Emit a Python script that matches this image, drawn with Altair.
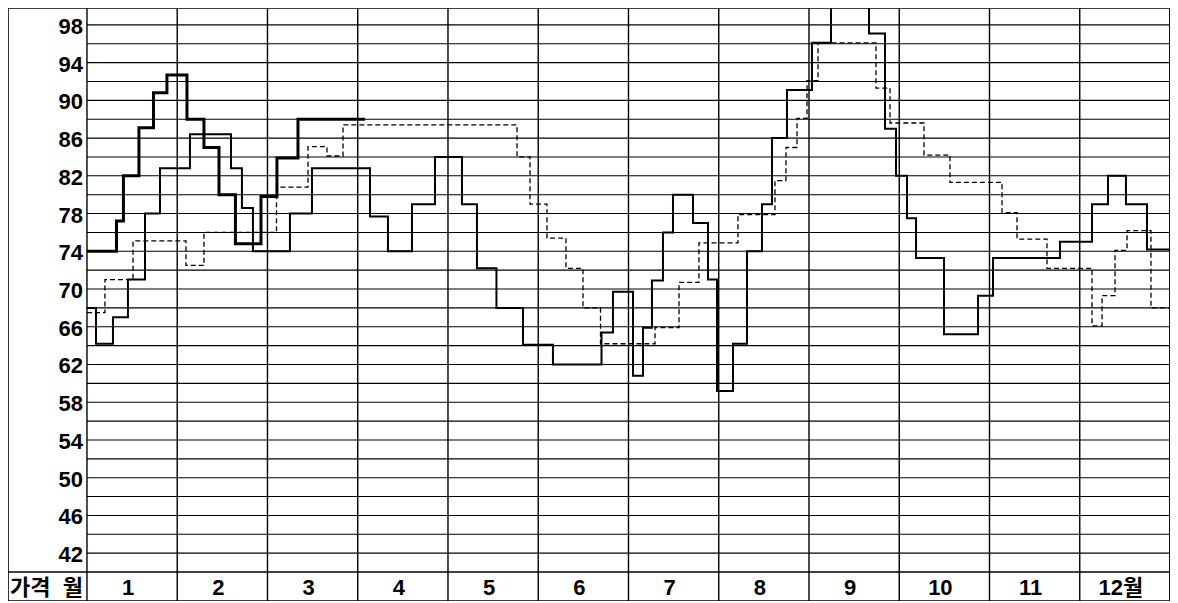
import altair as alt
import pandas as pd

# ---- data (x = position in months, 0 = start of Jan, 12 = end of Dec) ----
# thick solid series
a_x = [0.0, 0.327, 0.404, 0.576, 0.737, 0.886, 1.108, 1.296, 1.463, 1.645, 1.928, 2.105, 2.338]
a_v = [74.0, 77.2, 82.0, 87.1, 90.8, 92.7, 88.0, 85.0, 80.0, 74.8, 79.8, 83.9, 88.0]
a_end = 3.08

# thin solid series
b_x = [0.0, 0.100, 0.288, 0.454, 0.643, 0.809, 1.141, 1.596, 1.717, 1.839, 2.249, 2.493,
       3.136, 3.335, 3.601, 3.856, 4.155, 4.321, 4.537, 4.831, 5.163, 5.701, 5.828, 6.050,
       6.161, 6.260, 6.382, 6.493, 6.715, 6.881, 6.981, 7.158, 7.313, 7.479, 7.590, 7.756,
       8.033, 8.244, 8.665, 8.842, 8.964, 9.086, 9.186, 9.496, 9.873, 10.039, 10.781,
       11.136, 11.313, 11.512, 11.745]
b_v = [68.0, 64.2, 67.0, 71.0, 78.0, 82.8, 86.4, 82.8, 78.6, 74.0, 78.0, 82.8,
       77.7, 74.0, 79.0, 84.0, 79.0, 72.2, 68.0, 64.1, 62.0, 65.4, 69.7, 60.8,
       65.9, 70.9, 76.0, 80.0, 77.0, 71.0, 59.2, 64.2, 74.0, 79.0, 86.0, 91.1,
       96.1, 103.0, 97.1, 87.0, 82.0, 77.5, 73.3, 65.2, 69.3, 73.3, 75.0,
       79.0, 82.0, 79.0, 74.2]
b_end = 12.0

# dashed series
c_x = [0.0, 0.199, 0.510, 1.097, 1.296, 2.100, 2.449, 2.659, 2.837, 4.765, 4.909, 5.097,
       5.307, 5.496, 5.690, 6.294, 6.560, 6.781, 7.213, 7.623, 7.745, 7.867, 7.978, 8.100,
       8.742, 8.898, 9.274, 9.562, 10.139, 10.305, 10.637, 11.136, 11.247, 11.391, 11.524,
       11.789]
c_v = [67.5, 71.0, 75.1, 72.5, 76.0, 80.8, 85.1, 84.1, 87.4, 84.0, 79.0, 75.4,
       72.2, 68.0, 64.2, 65.9, 70.7, 74.9, 77.9, 81.5, 85.0, 88.1, 92.1, 96.1,
       91.3, 87.6, 84.2, 81.3, 78.1, 75.3, 72.2, 66.1, 69.3, 74.1, 76.2,
       68.0]
c_end = 12.0

month_labels = ["1", "2", "3", "4", "5", "6", "7", "8", "9", "10", "11", "12월"]
y_label_values = list(range(42, 99, 4))
grid_values = list(range(42, 99, 2))
month_bounds = list(range(0, 13))
corner_left = "가격"
corner_right = "월"

# ---- layout domain ----
X_MIN, X_MAX = -0.875, 12.0      # left column occupies [-0.875, 0]
Y_MIN, Y_MAX = 36.93, 99.79      # bottom label row occupies [36.93, 40]
ROW_MID = (Y_MIN + 40) / 2

xs = alt.Scale(domain=[X_MIN, X_MAX], nice=False, zero=False)
ys = alt.Scale(domain=[Y_MIN, Y_MAX], nice=False, zero=False)


def steps(xv, vv, end):
    rows = [{"x": x, "v": v} for x, v in zip(xv, vv)]
    rows.append({"x": end, "v": vv[-1]})
    return pd.DataFrame(rows)


def step_layer(df, width, dash=None):
    kw = dict(interpolate="step-after", color="black", strokeWidth=width, clip=True)
    if dash:
        kw["strokeDash"] = dash
    return alt.Chart(df).mark_line(**kw).encode(
        x=alt.X("x:Q", scale=xs, axis=None),
        y=alt.Y("v:Q", scale=ys, axis=None),
        order="x:Q",
    )


# horizontal grid lines (inside month area) + the row separator (full width)
hgrid = pd.DataFrame({"y": grid_values, "x0": 0.0, "x1": 12.0})
hsep = pd.DataFrame({"y": [40], "x0": [X_MIN], "x1": [12.0]})
vgrid = pd.DataFrame({"x": month_bounds, "y0": Y_MIN, "y1": Y_MAX})

h_rules = alt.Chart(hgrid).mark_rule(color="black", strokeWidth=1.1).encode(
    x=alt.X("x0:Q", scale=xs, axis=None), x2="x1:Q",
    y=alt.Y("y:Q", scale=ys, axis=None))
sep_rule = alt.Chart(hsep).mark_rule(color="black", strokeWidth=1.4).encode(
    x=alt.X("x0:Q", scale=xs, axis=None), x2="x1:Q",
    y=alt.Y("y:Q", scale=ys, axis=None))
v_rules = alt.Chart(vgrid).mark_rule(color="black", strokeWidth=1.4).encode(
    x=alt.X("x:Q", scale=xs, axis=None),
    y=alt.Y("y0:Q", scale=ys, axis=None), y2="y1:Q")

FONT = "Liberation Sans Narrow, Liberation Sans, Arial"

ylab = pd.DataFrame({"y": y_label_values, "t": [str(v) for v in y_label_values], "x": 0.0})
y_text = alt.Chart(ylab).mark_text(align="right", baseline="middle", dx=-4, dy=2,
                                   font=FONT, fontSize=22, fontWeight="bold",
                                   color="black").encode(
    x=alt.X("x:Q", scale=xs, axis=None), y=alt.Y("y:Q", scale=ys, axis=None), text="t:N")

mlab = pd.DataFrame({"x": [i + 0.5 for i in range(12)], "t": month_labels, "y": ROW_MID})
m_text = alt.Chart(mlab).mark_text(align="center", baseline="middle", dx=-4, dy=1,
                                   font=FONT + ", Noto Sans CJK KR", fontSize=22,
                                   fontWeight="bold", color="black").encode(
    x=alt.X("x:Q", scale=xs, axis=None), y=alt.Y("y:Q", scale=ys, axis=None), text="t:N")

corner = pd.DataFrame({"x": [X_MIN, 0.0], "y": [ROW_MID, ROW_MID],
                       "t": [corner_left, corner_right], "a": ["l", "r"]})
c_left = alt.Chart(corner[corner.a == "l"]).mark_text(
    align="left", baseline="middle", dx=2, dy=1, font="Noto Sans CJK KR", fontSize=22,
    fontWeight="bold", color="black").encode(x=alt.X("x:Q", scale=xs, axis=None),
                                             y=alt.Y("y:Q", scale=ys, axis=None), text="t:N")
c_right = alt.Chart(corner[corner.a == "r"]).mark_text(
    align="right", baseline="middle", dx=-4, dy=1, font="Noto Sans CJK KR", fontSize=22,
    fontWeight="bold", color="black").encode(x=alt.X("x:Q", scale=xs, axis=None),
                                             y=alt.Y("y:Q", scale=ys, axis=None), text="t:N")

chart = alt.layer(
    h_rules, sep_rule, v_rules,
    step_layer(steps(c_x, c_v, c_end), 1.3, [5, 3]),
    step_layer(steps(b_x, b_v, b_end), 2.0),
    step_layer(steps(a_x, a_v, a_end), 3.0),
    y_text, m_text, c_left, c_right,
).properties(
    width=1162, height=593,
    autosize=alt.AutoSizeParams(type="none"),
    padding={"left": 0, "top": 0, "right": 0, "bottom": 0},
    background="white",
).configure_view(stroke="black", strokeWidth=1.6)

chart.save("out.html", embed_options={"renderer": "svg", "actions": False})
